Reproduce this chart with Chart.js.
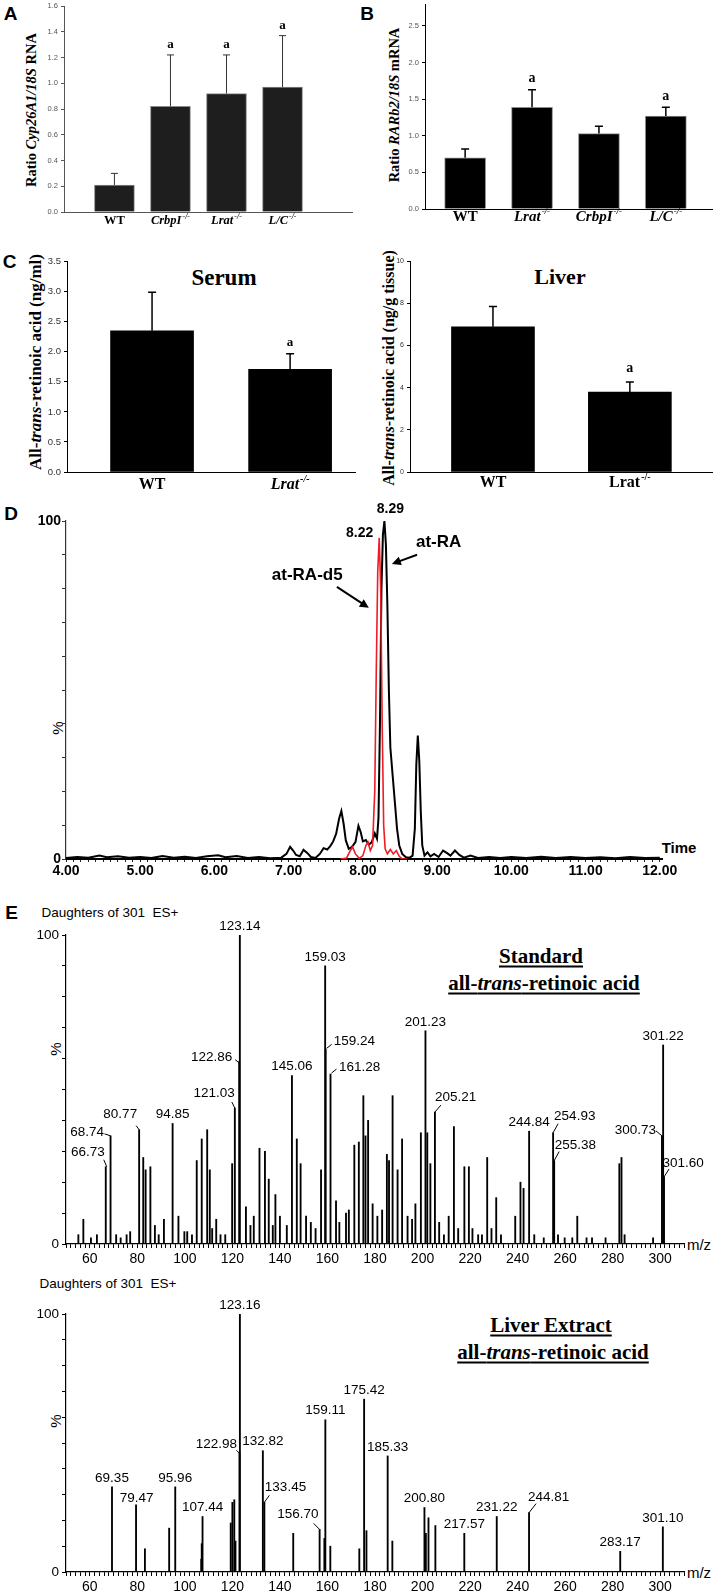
<!DOCTYPE html>
<html>
<head>
<meta charset="utf-8">
<title>all-trans-retinoic acid figure</title>
<script src="https://cdn.jsdelivr.net/npm/chart.js@4.4.1/dist/chart.umd.min.js"></script>
<style>
  html, body { margin: 0; padding: 0; background: #fff; }
  body { position: relative; width: 714px; height: 1593px; overflow: hidden; }
  canvas { position: absolute; }
  .t { position: absolute; transform: translate(-50%, -50%); white-space: nowrap; line-height: 1; color: #000; }
  .rot { transform: translate(-50%, -50%) rotate(-90deg); }
  .sans { font-family: "Liberation Sans", Arial, sans-serif; }
  .serif { font-family: "Liberation Serif", "Times New Roman", serif; font-weight: bold; }
  .letter { font: bold 19px "Liberation Sans", Arial, sans-serif; }
  .ul { text-decoration: underline; text-decoration-thickness: 1.5px; text-underline-offset: 3px; }
</style>
</head>
<body>
<div class="t letter" style="left:10.5px;top:13.5px">A</div>
<div class="t letter" style="left:367px;top:13.5px">B</div>
<div class="t letter" style="left:9.5px;top:261.5px">C</div>
<div class="t letter" style="left:11px;top:514px">D</div>
<div class="t letter" style="left:11.5px;top:913px">E</div>

<div class="t rot serif" style="left:31px;top:110px;font-size:14.5px">Ratio <i>Cyp26A1/18S</i> RNA</div>
<div class="t rot serif" style="left:394px;top:105px;font-size:14.5px">Ratio <i>RARb2/18S</i> mRNA</div>
<div class="t rot serif" style="left:35px;top:362px;font-size:17px">All-<i>trans</i>-retinoic acid (ng/ml)</div>
<div class="t rot serif" style="left:389px;top:368px;font-size:16px">All-<i>trans</i>-retinoic acid (ng/g tissue)</div>
<div class="t serif" style="left:224px;top:277px;font-size:23px">Serum</div>
<div class="t serif" style="left:560px;top:277px;font-size:22px">Liver</div>

<div class="t rot sans" style="left:57px;top:728px;font-size:15px">%</div>
<div class="t sans" style="left:679px;top:847px;font-size:15px;font-weight:bold">Time</div>

<div class="t sans" style="left:110px;top:913px;font-size:13.5px">Daughters of 301&nbsp; ES+</div>
<div class="t serif ul" style="left:541px;top:956px;font-size:21px">Standard</div>
<div class="t serif ul" style="left:544px;top:983px;font-size:21px">all-<i>trans</i>-retinoic acid</div>
<div class="t rot sans" style="left:55px;top:1049px;font-size:15px">%</div>
<div class="t sans" style="left:699px;top:1244px;font-size:15px">m/z</div>

<div class="t sans" style="left:108px;top:1284px;font-size:13.5px">Daughters of 301&nbsp; ES+</div>
<div class="t serif ul" style="left:551px;top:1325px;font-size:21px">Liver Extract</div>
<div class="t serif ul" style="left:553px;top:1352px;font-size:21px">all-<i>trans</i>-retinoic acid</div>
<div class="t rot sans" style="left:55px;top:1421px;font-size:15px">%</div>
<div class="t sans" style="left:699px;top:1572px;font-size:15px">m/z</div>

<script>
const SANS = '"Liberation Sans", Arial, sans-serif';
const SERIF = '"Liberation Serif", "Times New Roman", serif';

// A - Cyp26A1 / 18S RNA
const aGroups = ['WT', 'CrbpI', 'Lrat', 'L/C'];
const aItalic = [false, true, true, true];
const aSup = ['', '-/-', '-/-', '-/-'];
const aMean = [0.21, 0.82, 0.92, 0.97];
const aErrTop = [0.30, 1.22, 1.22, 1.37];
const aSig = ['', 'a', 'a', 'a'];

// B - RARb2 / 18S mRNA
const bGroups = ['WT', 'Lrat', 'CrbpI', 'L/C'];
const bItalic = [false, true, true, true];
const bSup = ['', '-/-', '-/-', '-/-'];
const bMean = [0.70, 1.39, 1.03, 1.27];
const bErrTop = [0.82, 1.63, 1.13, 1.39];
const bSig = ['', 'a', '', 'a'];

// C - serum at-RA (ng/ml)
const sGroups = ['WT', 'Lrat'];
const sItalic = [false, true];
const sSup = ['', '-/-'];
const sMean = [2.35, 1.71];
const sErrTop = [2.99, 1.97];
const sSig = ['', 'a'];

// C - liver at-RA (ng/g tissue)
const lGroups = ['WT', 'Lrat'];
const lItalic = [false, false];
const lSup = ['', '-/-'];
const lMean = [6.88, 3.79];
const lErrTop = [7.84, 4.27];
const lSig = ['', 'a'];

// D - chromatogram, at-RA (black) and at-RA-d5 (red)
const atraTime = [4.00, 4.15, 4.30, 4.45, 4.55, 4.70, 4.85, 5.00, 5.15, 5.30, 5.45, 5.60, 5.75, 5.90, 6.05, 6.15,
  6.30, 6.45, 6.60, 6.75, 6.90, 6.97, 7.02, 7.06, 7.10, 7.15, 7.20, 7.25, 7.30, 7.36, 7.42, 7.47, 7.52, 7.56,
  7.60, 7.64, 7.68, 7.71, 7.74, 7.77, 7.81, 7.85, 7.90, 7.94, 7.97, 8.00, 8.04, 8.08, 8.12, 8.16, 8.19, 8.21,
  8.23, 8.25, 8.27, 8.29, 8.31, 8.33, 8.35, 8.37, 8.40, 8.43, 8.46, 8.49, 8.53, 8.58, 8.63, 8.67, 8.70, 8.72,
  8.74, 8.76, 8.78, 8.80, 8.83, 8.87, 8.91, 8.96, 9.02, 9.08, 9.13, 9.18, 9.24, 9.30, 9.36, 9.45, 9.55, 9.70,
  9.85, 10.00, 10.20, 10.40, 10.60, 10.80, 11.00, 11.20, 11.40, 11.60, 11.80, 12.00];
const atraPct = [0.3, 0.6, 0.4, 1.0, 0.5, 0.8, 0.4, 0.6, 0.3, 0.9, 0.4, 0.7, 0.3, 0.8, 1.1, 0.5,
  0.9, 0.3, 0.6, 0.2, 0.4, 1.5, 3.6, 2.5, 1.2, 0.8, 2.7, 1.8, 0.6, 0.3, 1.5, 3.2, 2.8, 3.8,
  5.2, 7.5, 12.0, 14.2, 10.5, 5.5, 3.0, 3.5, 5.0, 9.8, 8.0, 5.2, 5.6, 4.2, 5.0, 7.6, 6.0, 12.0,
  40.0, 80.0, 96.0, 100.0, 93.0, 75.0, 50.0, 33.0, 25.0, 17.0, 9.0, 4.0, 1.5, 0.5, 0.4, 1.0, 9.0, 28.0,
  36.5, 29.0, 14.0, 4.0, 1.0, 2.0, 0.8, 1.5, 0.6, 2.5, 1.8, 1.0, 2.5, 1.2, 0.4, 1.0, 0.3, 0.6,
  0.3, 0.6, 0.3, 0.7, 0.3, 0.6, 0.3, 0.5, 0.2, 0.6, 0.3, 0.4];
const d5Time = [7.70, 7.78, 7.82, 7.86, 7.90, 7.95, 8.00, 8.04, 8.07, 8.10, 8.13, 8.16, 8.18, 8.20, 8.22,
  8.24, 8.26, 8.28, 8.30, 8.33, 8.37, 8.41, 8.45, 8.49, 8.53, 8.60];
const d5Pct = [0, 0.3, 2.0, 3.6, 1.5, 0.2, 1.0, 4.0, 5.0, 2.5, 4.0, 20, 55, 85, 95,
  80, 40, 10, 3, 1.5, 2.8, 1.5, 2.5, 0.8, 0, 0];
const dLabels = [
  { text: 'at-RA', at: [9.02, 93.8], from: [8.73, 90.0], to: [8.39, 87.3] },
  { text: 'at-RA-d5', at: [7.25, 84.0], from: [7.65, 80.5], to: [8.08, 74.3] }
];

// E - daughters of 301, standard
const stdMz = [55.2, 57.3, 60.5, 63.0, 66.73, 68.74, 71.1, 73.0, 75.5, 77.0, 80.77, 82.5, 83.5, 85.5, 87.4,
  89.0, 91.2, 94.85, 97.3, 99.8, 101.0, 103.0, 105.0, 107.1, 109.4, 110.5, 111.5, 113.2, 115.0, 117.0,
  119.9, 121.03, 122.86, 123.14, 125.7, 127.6, 129.0, 131.4, 133.7, 135.3, 137.0, 138.1, 140.0, 142.9,
  145.06, 147.1, 148.7, 151.0, 153.0, 155.0, 157.3, 159.03, 159.24, 161.28, 163.6, 165.0, 167.8, 169.0,
  171.3, 173.2, 175.1, 176.0, 177.1, 179.0, 181.0, 183.0, 185.0, 185.9, 187.4, 189.5, 191.4, 193.7,
  195.6, 197.0, 199.3, 201.23, 202.0, 203.3, 205.21, 207.0, 209.0, 211.0, 213.2, 215.0, 217.6, 219.5,
  221.0, 223.4, 225.0, 227.2, 229.0, 231.0, 233.0, 239.0, 241.2, 242.5, 244.84, 247.0, 251.0, 254.93,
  255.38, 257.0, 259.8, 263.0, 265.1, 269.0, 271.3, 277.0, 282.8, 283.7, 285.0, 297.0, 300.73, 301.22, 301.60];
const stdPct = [3, 8, 2, 3, 25, 35, 3, 2, 3, 4, 37, 28, 24, 25, 6,
  3, 8, 39, 9, 4, 4, 3, 27, 34, 37, 24, 5, 8, 3, 3,
  26, 44, 59, 100, 12, 6, 9, 31, 30, 21, 6, 16, 9, 6,
  54.5, 34, 26, 9, 7, 5, 24, 90, 63, 55, 14, 7, 10, 11,
  32, 33, 48, 35, 40, 13, 9, 11, 29, 27, 48, 24, 34, 9,
  8, 13, 36, 69, 36, 26, 42.7, 7, 3, 9, 38, 5, 25, 25,
  5, 3, 3, 28, 5, 15, 3, 9, 20, 18, 36.5, 3, 2, 36,
  27, 3, 2, 2, 9, 2, 2, 2, 26, 28, 3, 2, 35, 64.4, 21.7];
const stdTagged = [66.73, 68.74, 80.77, 94.85, 121.03, 122.86, 123.14, 145.06, 159.03, 159.24, 161.28,
  201.23, 205.21, 244.84, 254.93, 255.38, 300.73, 301.22, 301.60];

// E - daughters of 301, liver extract
const livMz = [69.35, 79.47, 83.2, 93.4, 95.96, 106.9, 107.1, 107.44, 119.3, 120.0, 120.8, 121.3, 122.98,
  123.16, 132.82, 133.45, 145.6, 156.70, 158.7, 159.11, 161.2, 173.4, 175.42, 176.4, 185.33, 187.3,
  200.80, 201.4, 202.5, 205.4, 217.57, 231.22, 244.81, 283.17, 301.10];
const livPct = [33, 26, 9, 17, 33, 5, 11, 21.5, 19, 27, 28, 12, 46,
  100, 47, 27, 15, 16.5, 13, 59, 10, 9, 67, 16, 45, 12,
  25, 15, 21, 18, 15, 21.5, 23, 8, 17.5];
const livTagged = [69.35, 79.47, 95.96, 107.44, 122.98, 123.16, 132.82, 133.45, 156.70, 159.11, 175.42,
  185.33, 200.80, 217.57, 231.22, 244.81, 283.17, 301.10];

// label offsets for the peaks tagged with a small leader line
const stdNudge = {
  '159.24': { align: 'left', dx: 8, dy: -8, lead: [1, -1, 6, -5] },
  '161.28': { align: 'left', dx: 8.5, dy: -7, lead: [1, -1, 6, -5] },
  '122.86': { align: 'right', dx: -7, dy: -4, lead: [0, 1, -4, -2] },
  '121.03': { align: 'right', dx: 0, dy: -15, lead: [-3, -6, 0, 0] },
  '205.21': { align: 'left', dx: 0, dy: -15, lead: [0, 0, 6, -7] },
  '80.77': { align: 'right', dx: -2, dy: -15, lead: [-3, -4, 0, 0] },
  '68.74': { align: 'right', dx: -6.5, dy: -4, lead: [-6, -2, 0, 0] },
  '66.73': { align: 'right', dx: -1, dy: -14, lead: [-2, -7, 1, 0] },
  '254.93': { align: 'left', dx: 1, dy: -16, lead: [0, 0, 5, -9] },
  '255.38': { align: 'left', dx: 0.5, dy: -15, lead: [0, 0, 5, -9] },
  '300.73': { align: 'right', dx: -6, dy: -6, lead: [-6, -5, 0, 0] },
  '301.60': { align: 'left', dx: -1.5, dy: -14, lead: [0, 0, 5, -8] }
};
const livNudge = {
  '122.98': { align: 'right', dx: -2.5, dy: -9, lead: [-3, -3, 0, 0] },
  '133.45': { align: 'left', dx: 0.5, dy: -15, lead: [0, 0, 5, -7] },
  '156.70': { align: 'right', dx: -1, dy: -15, lead: [-6, -6, 0, 0] },
  '244.81': { align: 'left', dx: -1, dy: -15, lead: [0, 0, 7, -9] },
  '79.47': { align: 'center', dx: 0.5, dy: -7 }
};

// ---------- helpers ----------
function mount(area, yw, xh, pt, pr) {
  const [l, t, r, b] = area;
  const w = r - l + yw + pr, h = b - t + pt + xh;
  const c = document.createElement('canvas');
  c.width = w; c.height = h;
  Object.assign(c.style, { left: (l - yw) + 'px', top: (t - pt) + 'px', width: w + 'px', height: h + 'px' });
  document.body.appendChild(c);
  return c;
}

function frame(pt, pr) {
  return {
    responsive: false, maintainAspectRatio: false, animation: false, devicePixelRatio: 1, events: [],
    layout: { padding: { left: 0, top: pt, right: pr, bottom: 0 } },
    plugins: { legend: { display: false }, tooltip: { enabled: false } }
  };
}

function groupLabel(ctx, name, ital, sup, cx, base, size) {
  const style = ital ? 'italic bold ' : 'bold ';
  const f1 = style + size + 'px ' + SERIF;
  const f2 = style + Math.round(size * 0.62) + 'px ' + SERIF;
  ctx.font = f1; const w1 = ctx.measureText(name).width;
  ctx.font = f2; const w2 = sup ? ctx.measureText(sup).width + 1 : 0;
  const x0 = cx - (w1 + w2) / 2;
  ctx.fillStyle = '#000'; ctx.textAlign = 'left'; ctx.textBaseline = 'alphabetic';
  ctx.font = f1; ctx.fillText(name, x0, base);
  if (sup) { ctx.font = f2; ctx.fillText(sup, x0 + w1 + 1, base - size * 0.42); }
}

function arrow(ctx, [x0, y0], [x1, y1]) {
  const a = Math.atan2(y1 - y0, x1 - x0), L = 9, W = 4.5;
  const c = Math.cos(a), s = Math.sin(a);
  ctx.lineWidth = 2; ctx.strokeStyle = '#000';
  ctx.beginPath(); ctx.moveTo(x0, y0); ctx.lineTo(x1 - L * 0.6 * c, y1 - L * 0.6 * s); ctx.stroke();
  ctx.beginPath(); ctx.moveTo(x1, y1);
  ctx.lineTo(x1 - L * c + W * s, y1 - L * s - W * c);
  ctx.lineTo(x1 - L * c - W * s, y1 - L * s + W * c);
  ctx.closePath(); ctx.fill();
}

// ---------- bar panels (A, B, C) ----------
function barPanel(p) {
  const YW = 60, XH = 40, PT = 8, PR = 6;
  const c = mount(p.area, YW, XH, PT, PR);
  const extras = {
    id: 'extras',
    afterDatasetsDraw(chart) {
      const { ctx, chartArea, scales: { x, y } } = chart;
      ctx.save();
      p.mean.forEach((m, i) => {
        const cx = x.getPixelForValue(i + 1);
        const y0 = y.getPixelForValue(m), y1 = y.getPixelForValue(p.errTop[i]);
        ctx.strokeStyle = p.errColor; ctx.lineWidth = p.errW;
        ctx.beginPath();
        ctx.moveTo(cx, y0); ctx.lineTo(cx, y1);
        ctx.moveTo(cx - p.cap / 2, y1); ctx.lineTo(cx + p.cap / 2, y1);
        ctx.stroke();
        if (p.sig[i]) {
          ctx.fillStyle = '#000'; ctx.font = 'bold ' + p.sigSize + 'px ' + SERIF;
          ctx.textAlign = 'center'; ctx.textBaseline = 'middle';
          ctx.fillText(p.sig[i], cx, y1 - p.sigGap);
        }
        groupLabel(ctx, p.groups[i], p.italic[i], p.sup[i], cx, chartArea.bottom + p.labelDy, p.labelSize);
      });
      ctx.restore();
    }
  };
  new Chart(c, {
    type: 'bar',
    data: {
      datasets: [{
        data: p.mean.map((m, i) => ({ x: i + 1, y: m })),
        backgroundColor: p.fill, borderColor: p.edge, borderWidth: p.edge ? 1 : 0,
        barThickness: p.barW
      }]
    },
    options: {
      ...frame(PT, PR),
      scales: {
        x: {
          type: 'linear', min: p.xr[0], max: p.xr[1], offset: false,
          grid: { display: false, offset: false }, ticks: { display: false },
          border: { color: p.axis, width: 1 },
          afterFit: s => { s.height = XH; }
        },
        y: {
          min: 0, max: p.ymax,
          grid: { drawOnChartArea: false, tickLength: 3, tickColor: p.axis },
          border: { color: p.axis, width: 1 },
          ticks: {
            stepSize: p.step, includeBounds: false, padding: 3, color: p.tickColor,
            font: { family: SANS, size: p.tickSize },
            callback: v => v.toFixed(p.digits)
          },
          afterFit: s => { s.width = YW; }
        }
      }
    },
    plugins: [extras]
  });
}

barPanel({
  area: [64, 6, 352, 212], xr: [0.1, 5.24], ymax: 1.6, step: 0.2, digits: 1,
  mean: aMean, errTop: aErrTop, sig: aSig, groups: aGroups, italic: aItalic, sup: aSup,
  fill: '#1e1e1e', edge: '#8a8a8a', barW: 40, axis: '#555', tickColor: '#555', tickSize: 7.5,
  errColor: '#333', errW: 1, cap: 7, sigSize: 13, sigGap: 10, labelDy: 12, labelSize: 12.5
});
barPanel({
  area: [425, 4, 712, 209], xr: [0.4, 4.69], ymax: 2.8, step: 0.5, digits: 1,
  mean: bMean, errTop: bErrTop, sig: bSig, groups: bGroups, italic: bItalic, sup: bSup,
  fill: '#000', edge: '#8a8a8a', barW: 41, axis: '#000', tickColor: '#555', tickSize: 7.5,
  errColor: '#000', errW: 1.5, cap: 8, sigSize: 14, sigGap: 11, labelDy: 11.7, labelSize: 15
});
barPanel({
  area: [67, 261, 355, 472], xr: [0.384, 2.47], ymax: 3.5, step: 0.5, digits: 1,
  mean: sMean, errTop: sErrTop, sig: sSig, groups: sGroups, italic: sItalic, sup: sSup,
  fill: '#000', edge: null, barW: 83, axis: '#000', tickColor: '#333', tickSize: 9.5,
  errColor: '#000', errW: 1.5, cap: 8, sigSize: 13, sigGap: 11, labelDy: 17, labelSize: 16
});
barPanel({
  area: [410, 261, 712, 472], xr: [0.394, 2.6], ymax: 10, step: 2, digits: 0,
  mean: lMean, errTop: lErrTop, sig: lSig, groups: lGroups, italic: lItalic, sup: lSup,
  fill: '#000', edge: null, barW: 83, axis: '#000', tickColor: '#333', tickSize: 7,
  errColor: '#000', errW: 1.5, cap: 8, sigSize: 14, sigGap: 14, labelDy: 15, labelSize: 16
});

// ---------- D: chromatogram ----------
(function () {
  const cD = mount([66, 521, 662, 859], 60, 30, 24, 40);
  const notes = {
    id: 'notes',
    afterDatasetsDraw(chart) {
      const { ctx, scales: { x, y } } = chart;
      const P = (t, v) => [x.getPixelForValue(t), y.getPixelForValue(v)];
      ctx.save();
      ctx.fillStyle = '#000'; ctx.textBaseline = 'middle';
      ctx.font = 'bold 14px ' + SANS;
      const ib = atraPct.indexOf(Math.max(...atraPct));
      const [bx, by] = P(atraTime[ib], atraPct[ib]);
      ctx.textAlign = 'center'; ctx.fillText(atraTime[ib].toFixed(2), bx + 6, by - 12);
      const ir = d5Pct.indexOf(Math.max(...d5Pct));
      const [rx, ry] = P(d5Time[ir], d5Pct[ir]);
      ctx.textAlign = 'right'; ctx.fillText(d5Time[ir].toFixed(2), rx - 6, ry - 5);
      ctx.font = 'bold 17px ' + SANS; ctx.textAlign = 'center';
      dLabels.forEach(d => {
        const [lx, ly] = P(d.at[0], d.at[1]);
        ctx.fillText(d.text, lx, ly);
        arrow(ctx, P(d.from[0], d.from[1]), P(d.to[0], d.to[1]));
      });
      ctx.restore();
    }
  };
  new Chart(cD, {
    type: 'line',
    data: {
      datasets: [
        { data: d5Time.map((t, i) => ({ x: t, y: d5Pct[i] })), borderColor: '#ee1c24', borderWidth: 1.6, pointRadius: 0, tension: 0, fill: false },
        { data: atraTime.map((t, i) => ({ x: t, y: atraPct[i] })), borderColor: '#000', borderWidth: 2, pointRadius: 0, tension: 0, fill: false }
      ]
    },
    options: {
      ...frame(24, 40),
      scales: {
        x: {
          type: 'linear', min: 4, max: 12.03,
          border: { color: '#000', width: 2 },
          grid: { drawOnChartArea: false, tickLength: 3, tickColor: '#222' },
          ticks: {
            stepSize: 0.1, includeBounds: false, autoSkip: false, maxRotation: 0, padding: 1, color: '#000',
            font: { family: SANS, size: 14, weight: 'bold' },
            callback: v => Math.abs(v - Math.round(v)) < 1e-6 ? v.toFixed(2) : ''
          },
          afterFit: s => { s.height = 30; }
        },
        y: {
          min: 0, max: 100,
          border: { color: '#333', width: 1.2 },
          grid: { drawOnChartArea: false, tickLength: 4, tickColor: '#333' },
          ticks: {
            stepSize: 10, padding: 1, color: '#000',
            font: { family: SANS, size: 14, weight: 'bold' },
            callback: v => (v === 0 || v === 100) ? String(v) : ''
          },
          afterFit: s => { s.width = 60; }
        }
      }
    },
    plugins: [notes]
  });
})();

// ---------- E: product-ion spectra ----------
function spectrum(area, mz, pct, tagged, nudge) {
  const c = mount(area, 60, 30, 14, 34);
  const tags = {
    id: 'tags',
    afterDatasetsDraw(chart) {
      const { ctx, scales: { x, y } } = chart;
      ctx.save();
      ctx.font = '13.5px ' + SANS; ctx.fillStyle = '#000'; ctx.strokeStyle = '#000';
      ctx.lineWidth = 1; ctx.textBaseline = 'middle';
      tagged.forEach(m => {
        const i = mz.indexOf(m);
        const px = x.getPixelForValue(m), py = y.getPixelForValue(pct[i]);
        const n = nudge[m.toFixed(2)] || { align: 'center', dx: 0, dy: -9 };
        ctx.textAlign = n.align;
        ctx.fillText(m.toFixed(2), px + n.dx, py + n.dy);
        if (n.lead) {
          ctx.beginPath();
          ctx.moveTo(px + n.lead[0], py + n.lead[1]);
          ctx.lineTo(px + n.lead[2], py + n.lead[3]);
          ctx.stroke();
        }
      });
      ctx.restore();
    }
  };
  new Chart(c, {
    type: 'bar',
    data: { datasets: [{ data: mz.map((m, i) => ({ x: m, y: pct[i] })), backgroundColor: '#000', borderWidth: 0, barThickness: 1.2 }] },
    options: {
      ...frame(14, 34),
      scales: {
        x: {
          type: 'linear', min: 50, max: 310, offset: false,
          border: { color: '#000', width: 1.2 },
          grid: { drawOnChartArea: false, offset: false, tickLength: 4, tickColor: '#000' },
          ticks: {
            stepSize: 2, maxTicksLimit: 500, autoSkip: false, maxRotation: 0, padding: 3, color: '#000',
            font: { family: SANS, size: 14 },
            callback: v => (Math.round(v) % 20 === 0 && v >= 60 && v <= 300) ? String(Math.round(v)) : ''
          },
          afterFit: s => { s.height = 30; }
        },
        y: {
          min: 0, max: 100,
          border: { color: '#000', width: 1.2 },
          grid: { drawOnChartArea: false, tickLength: 4, tickColor: '#000' },
          ticks: {
            stepSize: 10, padding: 3, color: '#000',
            font: { family: SANS, size: 13.5 },
            callback: v => (v === 0 || v === 100) ? String(v) : ''
          },
          afterFit: s => { s.width = 60; }
        }
      }
    },
    plugins: [tags]
  });
}

spectrum([66, 935, 684, 1244], stdMz, stdPct, stdTagged, stdNudge);
spectrum([66, 1314, 684, 1572], livMz, livPct, livTagged, livNudge);
</script>
</body>
</html>
